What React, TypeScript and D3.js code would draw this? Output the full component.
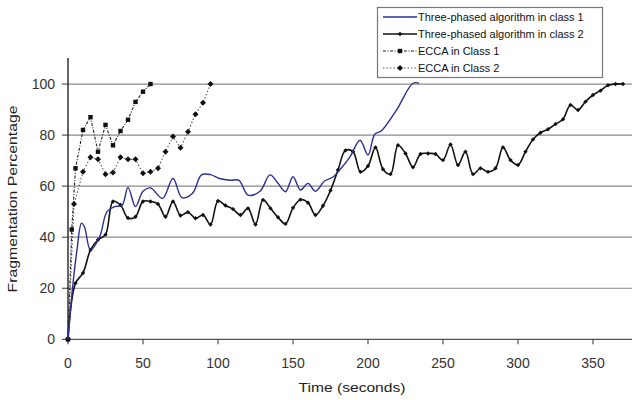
import React from "react";
import * as d3 from "d3";

const yTicks = [0, 20, 40, 60, 80, 100];
const xTicks = [0, 50, 100, 150, 200, 250, 300, 350];

const blueT = [0, 3, 6, 9, 11, 15, 21, 26, 31, 36, 40, 45, 50, 55, 63, 70, 76, 83, 89, 95, 101, 108, 114, 120, 128, 134.7, 140, 145, 150, 155, 160, 165, 171, 177, 182, 188, 194.7, 200, 204.5, 209, 219, 230, 234];
const blueV = [0, 20, 35, 45.5, 44, 35, 40, 50, 52, 52.5, 59.5, 52, 58, 59.3, 55.2, 63, 55.5, 57.2, 64.4, 64.5, 63, 62.3, 62.3, 56.5, 58, 64.4, 61.1, 57.8, 63.7, 58.5, 61.1, 58, 62, 63.7, 67, 71.5, 78, 72.2, 80.3, 81.7, 89.8, 100.3, 100.3];

const blackT = [0, 5, 10, 15, 20, 25, 30, 35, 40, 45, 50, 55, 60, 65, 70, 75, 80, 85, 90, 95, 100, 105, 110, 115, 120, 125, 130, 135, 140, 145, 150, 155, 160, 165, 170, 175, 180, 185, 190, 195, 200, 205, 210, 215, 220, 225, 230, 235, 240, 245, 250, 255, 260, 265, 270, 275, 280, 285, 290, 295, 300, 305, 310, 315, 320, 325, 330, 335, 340, 345, 350, 355, 360, 365, 370];
const blackV = [0, 22, 26, 35, 39, 41, 54, 52.6, 47.5, 48, 54, 54, 53, 48, 54, 48.5, 49.8, 47.4, 48.7, 45, 54.2, 52.4, 51, 48.7, 51.3, 45, 54.6, 51.3, 47.8, 45.2, 51.5, 54.7, 53.5, 48.7, 52.3, 58.3, 66.3, 74, 73.5, 65.6, 67.9, 75.2, 66.6, 64.7, 76, 72.8, 67.4, 72.6, 72.8, 72.6, 70.2, 76.3, 68.3, 73.5, 64.7, 67, 65.6, 67, 75.2, 70.2, 68.3, 73.5, 78.3, 80.9, 82.3, 84.3, 86.2, 91.8, 89.8, 93.1, 95.7, 97.4, 99.5, 100, 100];

const ecca1T = [0, 2.5, 5, 10, 15, 20, 25, 30, 35, 40, 45, 50, 55];
const ecca1V = [0, 43, 67, 82, 87, 73.5, 84, 76, 81.6, 86, 93, 97, 100];

const ecca2T = [0, 4, 10, 15, 20, 25, 30, 35, 40, 45, 50, 55, 60, 65, 70, 75, 80, 85, 90, 95];
const ecca2V = [0, 53, 65.6, 71.3, 70.5, 64.7, 65.3, 71.3, 70.5, 70.5, 65, 65.6, 67, 73.5, 79.4, 75, 81.3, 88.2, 92.7, 100];

const legendLabels = [
  "Three-phased algorithm in class 1",
  "Three-phased algorithm in class 2",
  "ECCA in Class 1",
  "ECCA in Class 2",
];

const FONT = "Arial, 'Liberation Sans', sans-serif";

export default function App() {
  const x = d3.scaleLinear().domain([0, 376]).range([68, 632]);
  const y = d3.scaleLinear().domain([0, 110]).range([339.3, 58.5]);

  const smooth = d3
    .line<[number, number]>()
    .x((d) => x(d[0]))
    .y((d) => y(d[1]))
    .curve(d3.curveCatmullRom.alpha(0.5));
  const straight = d3
    .line<[number, number]>()
    .x((d) => x(d[0]))
    .y((d) => y(d[1]));

  const zip = (t: number[], v: number[]) => t.map((tt, i) => [tt, v[i]] as [number, number]);
  const blue = zip(blueT, blueV);
  const black = zip(blackT, blackV);
  const e1 = zip(ecca1T, ecca1V);
  const e2 = zip(ecca2T, ecca2V);

  const square = (cx: number, cy: number, k: string) => (
    <rect key={k} x={cx - 2.2} y={cy - 2.2} width={4.4} height={4.4} fill="#111" />
  );
  const diamond = (cx: number, cy: number, k: string, r = 3) => (
    <path key={k} d={`M${cx},${cy - r}L${cx + r},${cy}L${cx},${cy + r}L${cx - r},${cy}Z`} fill="#111" />
  );

  const lx0 = 383, lx1 = 417;
  const legendY = [17, 34, 51, 68];

  return (
    <svg width={632} height={400} style={{ position: "absolute", left: 0, top: 0, background: "#fff" }}>
      {/* grid */}
      {yTicks.filter((t) => t > 0).map((t) => (
        <line key={"g" + t} x1={68} x2={632} y1={y(t)} y2={y(t)} stroke="#8a8a8a" strokeWidth={1.2} />
      ))}
      {/* axes */}
      <line x1={68} x2={68} y1={58} y2={y(0)} stroke="#111" strokeWidth={1.3} />
      <line x1={68} x2={632} y1={y(0)} y2={y(0)} stroke="#555" strokeWidth={1.3} />
      {yTicks.map((t) => (
        <g key={"yt" + t}>
          <line x1={62} x2={68} y1={y(t)} y2={y(t)} stroke="#333" />
          <text x={55} y={y(t)} dy="0.36em" textAnchor="end" fontSize={14} fontFamily={FONT} fill="#333">
            {t}
          </text>
        </g>
      ))}
      {xTicks.map((t) => (
        <g key={"xt" + t}>
          <line x1={x(t)} x2={x(t)} y1={y(0)} y2={y(0) + 5} stroke="#333" />
          <text x={x(t)} y={368} textAnchor="middle" fontSize={14} fontFamily={FONT} fill="#333">
            {t}
          </text>
        </g>
      ))}
      <text x={352} y={392} textAnchor="middle" fontSize={13.5} fontFamily={FONT} fill="#222" textLength={107} lengthAdjust="spacingAndGlyphs">
        Time (seconds)
      </text>
      <text
        transform="translate(17,199) rotate(-90)"
        textAnchor="middle"
        fontSize={13}
        fontFamily={FONT}
        fill="#222"
        textLength={187}
        lengthAdjust="spacingAndGlyphs"
      >
        Fragmentation Percentage
      </text>

      {/* ECCA class 2 */}
      <path d={straight(e2) || ""} fill="none" stroke="#555" strokeWidth={1.1} strokeDasharray="1.5,2" />
      {e2.map((d, i) => diamond(x(d[0]), y(d[1]), "e2" + i, 3))}
      {/* ECCA class 1 */}
      <path d={straight(e1) || ""} fill="none" stroke="#222" strokeWidth={1.1} strokeDasharray="3,1.5,1,1.5" />
      {e1.map((d, i) => square(x(d[0]), y(d[1]), "e1" + i))}

      {/* Three-phased class 2 */}
      <path d={smooth(black) || ""} fill="none" stroke="#111" strokeWidth={1.6} />
      {black.map((d, i) => diamond(x(d[0]), y(d[1]), "b" + i, 2.2))}
      {/* Three-phased class 1 */}
      <path d={smooth(blue) || ""} fill="none" stroke="#2b2f94" strokeWidth={1.4} />

      {/* legend */}
      <rect x={377.5} y={7.5} width={225} height={70} fill="#fff" stroke="#777" strokeWidth={1.2} />
      <line x1={lx0} x2={lx1} y1={legendY[0]} y2={legendY[0]} stroke="#2b2f94" strokeWidth={1.3} />
      <line x1={lx0} x2={lx1} y1={legendY[1]} y2={legendY[1]} stroke="#111" strokeWidth={1.6} />
      {diamond((lx0 + lx1) / 2, legendY[1], "lb", 2.2)}
      <line x1={lx0} x2={lx1} y1={legendY[2]} y2={legendY[2]} stroke="#222" strokeWidth={1.1} strokeDasharray="3,1.5,1,1.5" />
      {square((lx0 + lx1) / 2, legendY[2], "l1")}
      <line x1={lx0} x2={lx1} y1={legendY[3]} y2={legendY[3]} stroke="#555" strokeWidth={1.1} strokeDasharray="1.5,2" />
      {diamond((lx0 + lx1) / 2, legendY[3], "l2", 3)}
      {legendLabels.map((s, i) => (
        <text key={s} x={418} y={legendY[i]} dy="0.36em" fontSize={11} fontFamily={FONT} fill="#111">
          {s}
        </text>
      ))}
    </svg>
  );
}
